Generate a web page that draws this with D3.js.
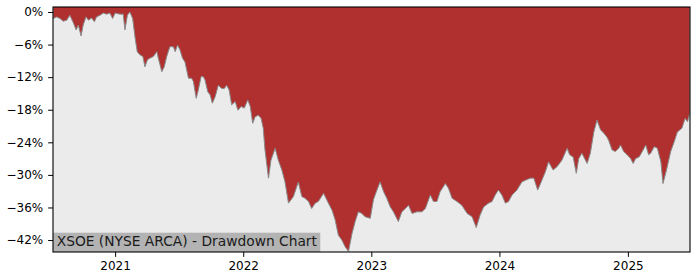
<!DOCTYPE html>
<html><head><meta charset="utf-8">
<script src="https://cdn.jsdelivr.net/npm/d3@7"></script>
<style>body{margin:0;background:#fff}svg{display:block}text{font-family:"DejaVu Sans",sans-serif}</style>
</head><body><svg id="c" width="700" height="280"></svg>
<script>
const dates = ["2020-07-09","2020-07-18","2020-07-28","2020-08-06","2020-08-16","2020-08-25","2020-09-04","2020-09-12","2020-09-18","2020-09-26","2020-10-02","2020-10-10","2020-10-17","2020-10-26","2020-11-03","2020-11-09","2020-11-19","2020-11-28","2020-12-08","2020-12-17","2020-12-25",
"2021-01-01","2021-01-15","2021-01-24","2021-01-29","2021-02-05","2021-02-12","2021-02-20","2021-02-27","2021-03-05","2021-03-13","2021-03-21","2021-03-27","2021-04-03","2021-04-10","2021-04-20","2021-04-30","2021-05-04","2021-05-14","2021-05-21","2021-05-28","2021-06-06","2021-06-16","2021-06-21","2021-06-28","2021-07-05","2021-07-12","2021-07-19","2021-07-29","2021-08-07","2021-08-12","2021-08-20","2021-08-26","2021-09-03","2021-09-09","2021-09-14","2021-09-22","2021-09-29","2021-10-05","2021-10-13","2021-10-22","2021-11-01","2021-11-08","2021-11-15","2021-11-22","2021-11-29","2021-12-09","2021-12-17","2021-12-26",
"2022-01-04","2022-01-14","2022-01-21","2022-01-28","2022-02-04","2022-02-13","2022-02-21","2022-02-27","2022-03-04","2022-03-14","2022-03-21","2022-04-02","2022-04-11","2022-04-21","2022-04-30","2022-05-10","2022-05-24","2022-06-07","2022-06-17","2022-06-26","2022-07-06","2022-07-15","2022-07-25","2022-08-03","2022-08-18","2022-08-27","2022-09-11","2022-09-20","2022-09-29","2022-10-09","2022-10-18","2022-10-28","2022-11-07","2022-11-16","2022-11-25","2022-12-05","2022-12-14","2022-12-29",
"2023-01-07","2023-01-17","2023-01-26","2023-02-05","2023-02-14","2023-02-24","2023-03-05","2023-03-19","2023-03-29","2023-04-08","2023-04-17","2023-04-27","2023-05-11","2023-05-25","2023-06-04","2023-06-18","2023-06-27","2023-07-07","2023-07-16","2023-07-31","2023-08-09","2023-08-19","2023-09-02","2023-09-16","2023-10-01","2023-10-15","2023-10-27","2023-11-07","2023-11-17","2023-12-01","2023-12-11","2023-12-20","2023-12-29",
"2024-01-08","2024-01-18","2024-01-27","2024-02-06","2024-02-20","2024-03-05","2024-03-15","2024-03-29","2024-04-08","2024-04-19","2024-04-29","2024-05-11","2024-05-20","2024-06-02","2024-06-13","2024-06-27","2024-07-12","2024-07-19","2024-07-29","2024-08-07","2024-08-14","2024-08-23","2024-09-07","2024-09-16","2024-09-26","2024-10-05","2024-10-15","2024-10-24","2024-11-02","2024-11-07","2024-11-17","2024-11-26","2024-12-06","2024-12-11","2024-12-20","2024-12-30",
"2025-01-09","2025-01-16","2025-01-23","2025-02-02","2025-02-11","2025-02-21","2025-03-01","2025-03-07","2025-03-17","2025-03-26","2025-04-05","2025-04-11","2025-04-21","2025-05-03","2025-05-13","2025-05-22","2025-06-04","2025-06-13","2025-06-20","2025-06-26"];
const drawdown = [-1.2,-0.9,-1.2,-1.7,-1.5,-0.6,-2.0,-3.3,-2.4,-4.4,-2.4,-0.9,-1.5,-1.1,-1.8,-0.9,-0.6,-0.2,-0.4,-0.2,-1.2,
-0.2,-0.4,-0.4,-3.3,-0.6,0.0,-1.2,-4.8,-7.3,-7.9,-8.2,-10.1,-8.8,-8.5,-8.2,-7.3,-8.5,-11.0,-10.1,-8.2,-6.4,-6.4,-7.3,-6.1,-7.0,-8.5,-9.2,-12.2,-12.2,-12.8,-15.9,-14.4,-11.9,-11.9,-12.5,-14.7,-15.3,-16.8,-15.6,-13.5,-14.1,-14.1,-13.5,-14.4,-17.1,-16.5,-18.1,-17.4,
-17.7,-16.2,-17.4,-20.5,-19.3,-19.0,-19.6,-21.4,-25.4,-30.6,-27.3,-25.1,-27.3,-29.1,-31.3,-35.2,-34.0,-31.3,-34.0,-34.3,-34.9,-36.2,-35.2,-34.9,-33.4,-34.6,-36.5,-38.3,-41.1,-42.0,-43.2,-44.1,-40.8,-38.6,-36.8,-37.1,-37.7,-38.0,
-34.6,-32.8,-31.3,-33.1,-34.3,-35.9,-36.8,-38.6,-36.8,-36.2,-35.6,-37.1,-36.8,-36.8,-36.2,-33.7,-34.9,-34.9,-33.1,-31.6,-32.5,-34.3,-34.9,-35.6,-37.1,-37.7,-39.7,-37.4,-35.9,-35.2,-34.9,-33.7,-32.8,
-33.7,-35.2,-34.9,-33.7,-32.8,-31.3,-31.0,-30.6,-30.6,-32.8,-31.3,-29.4,-27.6,-29.1,-28.5,-27.3,-25.1,-26.3,-26.7,-29.7,-27.0,-26.0,-27.9,-26.0,-22.1,-19.9,-21.7,-22.3,-23.0,-23.6,-25.4,-25.7,-25.1,-24.5,-25.7,-26.3,
-27.0,-27.9,-27.0,-26.7,-25.7,-24.5,-26.3,-26.0,-24.8,-25.1,-27.6,-31.6,-29.1,-25.7,-23.9,-22.1,-21.4,-19.6,-20.2,-18.7];
const yTicks = [0,-6,-12,-18,-24,-30,-36,-42];
const xTickYears = ["2021","2022","2023","2024","2025"];
const title = "XSOE (NYSE ARCA) - Drawdown Chart";

const L=53, R=690, T=7, B=252;
const parse = d3.timeParse("%Y-%m-%d");
const data = dates.map((d,i)=>({d:parse(d), v:drawdown[i]}));
const svg = d3.select("#c");
const x = d3.scaleTime().domain([parse("2020-07-08"), parse("2025-06-27")]).range([L,R]);
const y = d3.scaleLinear().domain([-44.2, 0.92]).range([B,T]);

svg.append("defs").append("clipPath").attr("id","clip").append("rect")
  .attr("x",L).attr("y",T).attr("width",R-L).attr("height",B-T);
svg.append("rect").attr("x",L).attr("y",T).attr("width",R-L).attr("height",B-T).attr("fill","#ebebeb");
const g = svg.append("g").attr("clip-path","url(#clip)");
g.append("path").datum(data).attr("fill","#b03030")
  .attr("d", d3.area().x(d=>x(d.d)).y0(y(0.92)).y1(d=>y(d.v)));
g.append("path").datum(data).attr("fill","none").attr("stroke","#8a8a8a").attr("stroke-width",1)
  .attr("d", d3.line().x(d=>x(d.d)).y(d=>y(d.v)));

// title box
const tg = svg.append("g");
const tt = tg.append("text").attr("x",L+3.7).attr("y",246.3).attr("font-size","13.8px").attr("fill","#1a1a1a").text(title);
const bw = tt.node().getComputedTextLength();
tg.insert("rect","text").attr("x",L).attr("y",232.7).attr("width",bw+7).attr("height",B-232.7).attr("fill","#b3b3b3");

// axes
const yAxis = d3.axisLeft(y).tickValues(yTicks).tickSize(4.9).tickPadding(4.9)
  .tickFormat(d=> (d<0?"\u2212"+Math.abs(d):d)+"%");
const ya = svg.append("g").attr("transform",`translate(${L},0)`).call(yAxis);
const xAxis = d3.axisBottom(x).tickValues(xTickYears.map(yy=>parse(yy+"-01-01"))).tickSize(4.9).tickPadding(4.9)
  .tickFormat(d3.timeFormat("%Y"));
const xa = svg.append("g").attr("transform",`translate(0,${B})`).call(xAxis);
[ya,xa].forEach(a=>{
  a.select(".domain").remove();
  a.selectAll(".tick line").attr("stroke","#000").attr("stroke-width",1);
  a.selectAll(".tick text").attr("font-family","DejaVu Sans").attr("font-size","12px").attr("fill","#000");
});
svg.append("rect").attr("x",L).attr("y",T).attr("width",R-L).attr("height",B-T)
  .attr("fill","none").attr("stroke","#000").attr("stroke-width",1.1);
</script></body></html>
